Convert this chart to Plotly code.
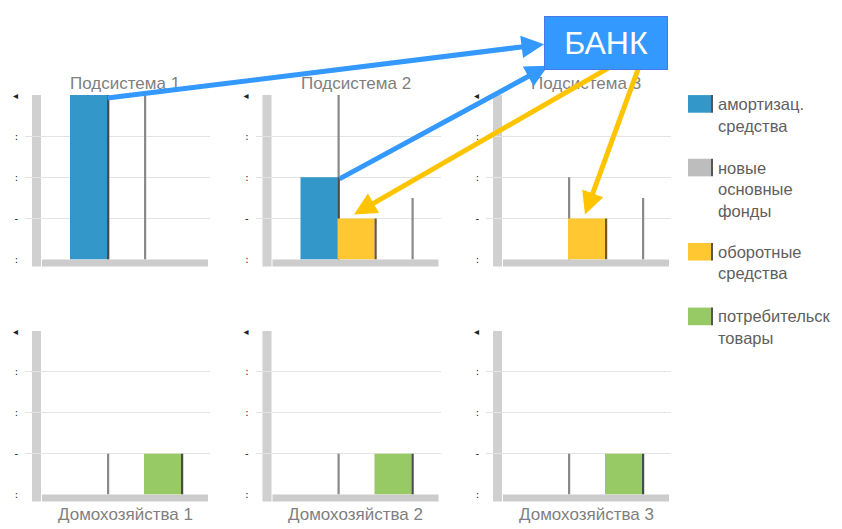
import plotly.graph_objects as go

W, H = 842, 529

# ---- data ----
top_titles = ["Подсистема 1", "Подсистема 2", "Подсистема 3"]
bottom_titles = ["Домохозяйства 1", "Домохозяйства 2", "Домохозяйства 3"]
series_names = ["амортизац.<br>средства", "новые<br>основные<br>фонды", "оборотные<br>средства", "потребительск<br>товары"]
# per panel: Подсистема 1..3, Домохозяйства 1..3
amort_vals = [4, 2, 0, 0, 0, 0]
working_vals = [0, 1, 1, 0, 0, 0]
consumer_vals = [0, 0, 0, 1, 1, 1]
newfix_a_vals = [4, 4, 2, 1, 1, 1]     # thin gray columns, first position
newfix_b_vals = [4, 0, 0, 0, 0, 0]     # thin gray columns, second position
newfix_c_vals = [0, 1.5, 1.5, 0, 0, 0] # thin gray columns, third position
y_tickvals = [0, 1, 2, 3, 4]
y_ticktext = [":", "-", ":", ":", "◂"]
bank_label = "БАНК"

# ---- style ----
C_BLUE = "#3398c9"
C_GRAY = "#bdbdbd"
C_YEL = "#ffc833"
C_GREEN = "#97c965"
C_EDGE = "#4a4a4a"
C_LINE = "#8a8a8a"
FONT = "Liberation Sans, Arial, sans-serif"


def X(px):
    return px / W


def Y(py):
    return 1 - py / H


col_left = [32, 262.5, 493]
rows = [dict(zero=260, top=91), dict(zero=500, top=332)]
slot_px = 37.0
slotA_center = 56.5
xr = [(-7 - slotA_center) / slot_px, (178 - slotA_center) / slot_px]

fig = go.Figure()
shapes = []
annotations = []
layout = {}

edge_w = 0.06
for i in range(6):
    r, c = divmod(i, 3)
    n = "" if i == 0 else str(i + 1)
    cl = col_left[c]
    zero, top = rows[r]["zero"], rows[r]["top"]
    layout[f"xaxis{n}"] = dict(domain=[X(cl - 7), X(cl + 178)], range=xr, visible=False,
                               anchor=f"y{n}", fixedrange=True)
    layout[f"yaxis{n}"] = dict(domain=[Y(zero), Y(top)], range=[0, 4.024], anchor=f"x{n}",
                               tickvals=y_tickvals, ticktext=y_ticktext, showgrid=True,
                               gridcolor="#e3e3e3", gridwidth=1, zeroline=False, showline=False,
                               ticks="", tickfont=dict(size=10, color="#222", family="DejaVu Sans"),
                               ticklabelstandoff=6, fixedrange=True)
    xa, ya = f"x{n}", f"y{n}"

    def bar(xpos, val, color, width):
        fig.add_trace(go.Bar(x=[xpos], y=[val], width=[width], marker=dict(color=color, line=dict(width=0)),
                             xaxis=xa, yaxis=ya, showlegend=False, hoverinfo="skip"))

    # thin gray columns (new fixed assets)
    bar(0.5 + 0.03, newfix_a_vals[i], C_LINE, edge_w)
    bar(1.5 + 0.03, newfix_b_vals[i], C_LINE, edge_w)
    bar(2.5 + 0.03, newfix_c_vals[i], C_LINE, edge_w)
    # main columns + dark side edges
    bar(0, amort_vals[i], C_BLUE, 1.0)
    bar(0.5 + 0.03, amort_vals[i], C_EDGE, edge_w)
    bar(1, working_vals[i], C_YEL, 1.0)
    bar(1.5 + 0.03, working_vals[i], "#6b5a2a", edge_w)
    bar(2, consumer_vals[i], C_GREEN, 1.0)
    bar(2.5 + 0.03, consumer_vals[i], C_EDGE, edge_w)

    # vertical axis band and floor
    shapes.append(dict(type="rect", xref="paper", yref="paper", x0=X(cl), x1=X(cl + 9),
                       y0=Y(zero + 7), y1=Y(top + 1), fillcolor="#d0d0d0", line=dict(width=0), layer="below"))
    shapes.append(dict(type="rect", xref="paper", yref="paper", x0=X(cl + 10), x1=X(cl + 176),
                       y0=Y(zero + 7), y1=Y(zero), fillcolor="#cccccc", line=dict(width=0), layer="below"))

    # panel titles
    if r == 0:
        annotations.append(dict(text=top_titles[c], x=X(cl + 93), y=Y(80), xref="paper", yref="paper",
                                xanchor="center", yanchor="middle", showarrow=False,
                                font=dict(size=17, color="#7f7f7f", family=FONT)))
    else:
        annotations.append(dict(text=bottom_titles[c], x=X(cl + 93), y=Y(520), xref="paper", yref="paper",
                                xanchor="center", yanchor="middle", showarrow=False,
                                font=dict(size=17, color="#7f7f7f", family=FONT)))

# ---- legend (manual) ----
leg_colors = [C_BLUE, C_GRAY, C_YEL, C_GREEN]
leg_line_y = [[101, 124], [166, 188, 210], [252, 274], [318, 340]]
for col, name, ys in zip(leg_colors, series_names, leg_line_y):
    yc = ys[0]
    shapes.append(dict(type="rect", xref="paper", yref="paper", x0=X(688), x1=X(711), y0=Y(yc + 9), y1=Y(yc - 9),
                       fillcolor=col, line=dict(width=0)))
    shapes.append(dict(type="rect", xref="paper", yref="paper", x0=X(711), x1=X(713), y0=Y(yc + 9), y1=Y(yc - 9),
                       fillcolor="#555", line=dict(width=0)))
    for line_txt, yl in zip(name.split("<br>"), ys):
        annotations.append(dict(text=line_txt, x=X(716), y=Y(yl), xref="paper", yref="paper", xanchor="left",
                                yanchor="middle", showarrow=False, font=dict(size=16.5, color="#5f5f5f", family=FONT)))

# ---- arrows (tail -> tip, pixels) ----
arrows = [
    ((106, 94), (544, 40), "#3399ff"),
    ((338, 176), (548, 62), "#3399ff"),
    ((611, 66), (354, 214), "#ffc400"),
    ((639, 66), (585, 214), "#ffc400"),
]
for (tx, ty), (hx, hy), col in arrows:
    annotations.append(dict(text="", x=X(hx), y=Y(hy), xref="paper", yref="paper",
                            ax=tx - hx, ay=ty - hy, axref="pixel", ayref="pixel",
                            showarrow=True, arrowhead=2, arrowsize=0.9, arrowwidth=5, arrowcolor=col))

annotations.append(dict(text=bank_label, x=X(606), y=Y(39), xref="paper", yref="paper", showarrow=False,
                        width=120, height=50, bgcolor="#3399ff", bordercolor="#4a78e6", borderwidth=1,
                        font=dict(size=32, color="white", family=FONT), xanchor="center", yanchor="middle"))

fig.update_layout(**layout)
fig.update_layout(width=W, height=H, margin=dict(l=0, r=0, t=0, b=0), barmode="overlay",
                  paper_bgcolor="white", plot_bgcolor="rgba(0,0,0,0)", showlegend=False,
                  shapes=shapes, annotations=annotations)
fig.write_html("out.html")
